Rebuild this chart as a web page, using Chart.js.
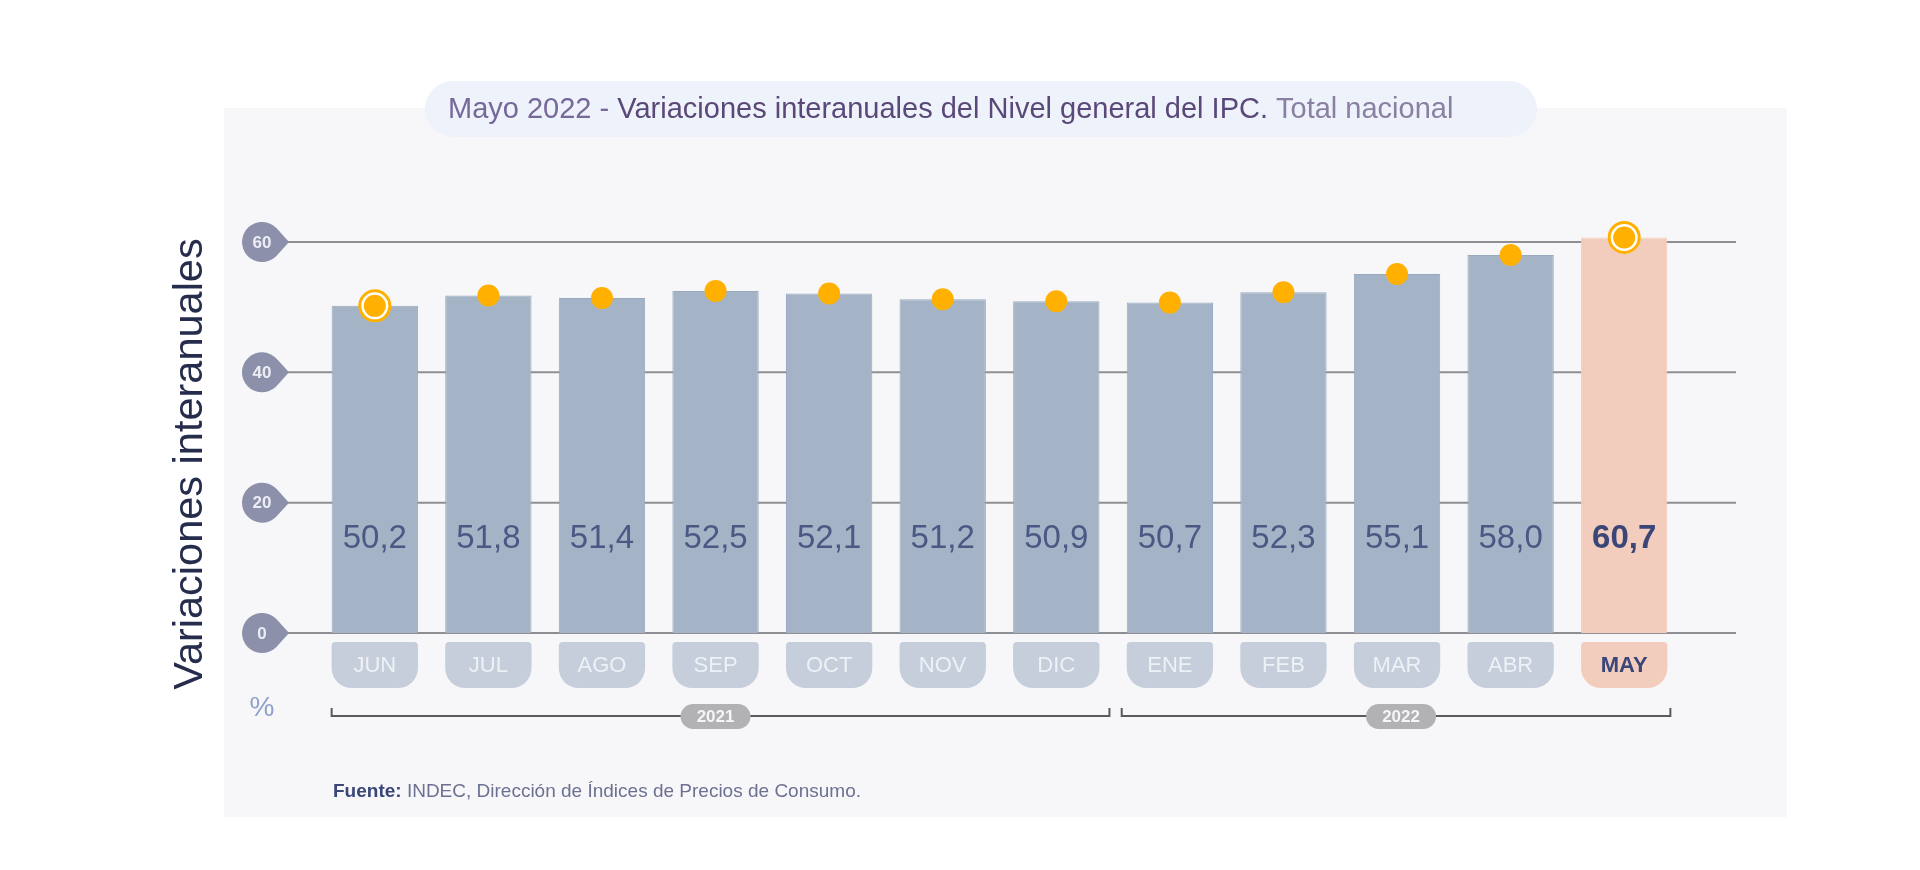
<!DOCTYPE html>
<html>
<head>
<meta charset="utf-8">
<script src="https://cdn.jsdelivr.net/npm/chart.js@4/dist/chart.umd.min.js"></script>
<style>
  html, body { margin: 0; background: #fff; }
  #wrap { width: 1920px; height: 870px; }
</style>
</head>
<body>
<div id="wrap"><canvas id="ipc" width="1920" height="870"></canvas></div>
<script>
// Datos
const months = ["JUN", "JUL", "AGO", "SEP", "OCT", "NOV", "DIC", "ENE", "FEB", "MAR", "ABR", "MAY"];
const values = [50.2, 51.8, 51.4, 52.5, 52.1, 51.2, 50.9, 50.7, 52.3, 55.1, 58.0, 60.7];
const valueLabels = ["50,2", "51,8", "51,4", "52,5", "52,1", "51,2", "50,9", "50,7", "52,3", "55,1", "58,0", "60,7"];
const yTicks = [0, 20, 40, 60];
const years = ["2021", "2022"];
const yearFirst = ["JUN", "ENE"];
const yearLast = ["DIC", "MAY"];
const ringed = ["JUN", "MAY"];
const current = "MAY";

const FONT = "'Liberation Sans', Arial, sans-serif";

// decoracion: panel, titulo, ejes tipo INDEC
const decor = {
  id: "decor",
  beforeDraw(chart) {
    const ctx = chart.ctx;
    ctx.save();
    ctx.fillStyle = "#f7f7f9";
    ctx.fillRect(224, 108, 1563, 709);

    // title pill
    ctx.fillStyle = "#eef2fa";
    ctx.beginPath();
    ctx.roundRect(425, 81, 1112, 56, 28);
    ctx.fill();

    const parts = [
      ["Mayo 2022 - ", "#76689a"],
      ["Variaciones interanuales del Nivel general del IPC.", "#5a4878"],
      [" Total nacional", "#8a80a2"]
    ];
    ctx.font = "29px " + FONT;
    ctx.textBaseline = "middle";
    let x = 448;
    parts.forEach(([t, c]) => {
      ctx.fillStyle = c;
      ctx.fillText(t, x, 110);
      x += ctx.measureText(t).width;
    });
    ctx.restore();
  },
  beforeDatasetsDraw(chart) {
    const ctx = chart.ctx;
    const y = chart.scales.y;
    ctx.save();
    yTicks.forEach(v => {
      const py = y.getPixelForValue(v);
      ctx.strokeStyle = "#8f8f93";
      ctx.lineWidth = 2;
      ctx.beginPath();
      ctx.moveTo(287, py);
      ctx.lineTo(1736, py);
      ctx.stroke();

      // teardrop bubble
      const cx = 262, r = 20;
      ctx.fillStyle = "#8c90ab";
      ctx.beginPath();
      ctx.moveTo(cx + 27, py);
      ctx.arc(cx, py, r, -0.75, 0.75, true);
      ctx.closePath();
      ctx.fill();
      ctx.fillStyle = "#eceef4";
      ctx.font = "bold 17px " + FONT;
      ctx.textAlign = "center";
      ctx.textBaseline = "middle";
      ctx.fillText(String(v), cx, py + 1);
    });
    ctx.restore();
  },
  afterDatasetsDraw(chart) {
    const ctx = chart.ctx;
    const y = chart.scales.y;
    const bars = chart.getDatasetMeta(2).data;
    const zero = y.getPixelForValue(0);
    ctx.save();
    ctx.textAlign = "center";
    ctx.textBaseline = "middle";

    bars.forEach((b, i) => {
      const isCur = months[i] === current;
      const w = b.width;
      // value label
      ctx.fillStyle = isCur ? "#3a4677" : "#4c5884";
      ctx.font = (isCur ? "bold " : "") + "33px " + FONT;
      ctx.fillText(valueLabels[i], b.x, zero - 94);

      // month pill
      ctx.fillStyle = isCur ? "#f2cdbd" : "#c5ceda";
      ctx.beginPath();
      ctx.roundRect(b.x - w / 2, zero + 9, w, 46, [4, 4, 20, 20]);
      ctx.fill();
      ctx.fillStyle = isCur ? "#3a4677" : "#eef1f6";
      ctx.font = (isCur ? "bold " : "") + "22px " + FONT;
      ctx.fillText(months[i], b.x, zero + 33);
    });

    // year brackets
    years.forEach((yr, k) => {
      const a = bars[months.indexOf(yearFirst[k])];
      const z = bars[months.indexOf(yearLast[k])];
      const x0 = a.x - a.width / 2 - (k ? 5 : 0);
      const x1 = z.x + z.width / 2 + (k ? 3 : 10);
      const by = zero + 83;
      ctx.strokeStyle = "#5a5a5e";
      ctx.lineWidth = 2;
      ctx.beginPath();
      ctx.moveTo(x0, by - 8);
      ctx.lineTo(x0, by);
      ctx.lineTo(x1, by);
      ctx.lineTo(x1, by - 8);
      ctx.stroke();
      const mx = (x0 + x1) / 2 + (k ? 5 : -5);
      ctx.fillStyle = "#b2b2b4";
      ctx.beginPath();
      ctx.roundRect(mx - 35, by - 12, 70, 25, 12.5);
      ctx.fill();
      ctx.fillStyle = "#f5f5f7";
      ctx.font = "bold 17px " + FONT;
      ctx.fillText(yr, mx, by + 1);
    });

    // unidad
    ctx.fillStyle = "#8ea2c8";
    ctx.font = "28px " + FONT;
    ctx.fillText("%", 262, 708);

    // titulo eje y
    ctx.save();
    ctx.translate(191, 464);
    ctx.rotate(-Math.PI / 2);
    ctx.fillStyle = "#262c4c";
    ctx.font = "41.5px " + FONT;
    ctx.fillText("Variaciones interanuales", 0, 0);
    ctx.restore();

    // fuente
    ctx.textAlign = "left";
    ctx.textBaseline = "alphabetic";
    ctx.font = "bold 19px " + FONT;
    ctx.fillStyle = "#3a4677";
    ctx.fillText("Fuente:", 333, 797);
    const fw = ctx.measureText("Fuente: ").width;
    ctx.font = "19px " + FONT;
    ctx.fillStyle = "#6c7192";
    ctx.fillText("INDEC, Dirección de Índices de Precios de Consumo.", 333 + fw, 797);
    ctx.restore();
  }
};

const ipcCtx = document.getElementById("ipc").getContext("2d");
new Chart(ipcCtx, {
  data: {
    labels: months,
    datasets: [
      {
        type: "line",
        data: values,
        showLine: false,
        pointRadius: 11,
        pointHoverRadius: 11,
        pointBackgroundColor: "#ffb000",
        pointBorderWidth: 0,
        clip: false,
        order: 0
      },
      {
        type: "line",
        data: values.map((v, i) => (ringed.includes(months[i]) ? v : null)),
        showLine: false,
        pointRadius: 15,
        pointHoverRadius: 15,
        pointBackgroundColor: "#ffffff",
        pointBorderColor: "#ffb000",
        pointBorderWidth: 3,
        clip: false,
        order: 1
      },
      {
        type: "bar",
        data: values,
        backgroundColor: months.map(m => (m === current ? "#f2cdbd" : "#a4b4c6")),
        borderColor: months.map(m => (m === current ? "#f2cdbd" : "#98aabf")),
        borderWidth: 1,
        barPercentage: 0.76,
        categoryPercentage: 1,
        clip: false,
        order: 2
      }
    ]
  },
  options: {
    responsive: false,
    animation: false,
    devicePixelRatio: 1,
    events: [],
    layout: { padding: { left: 318, right: 239, top: 242, bottom: 237 } },
    plugins: { legend: { display: false }, tooltip: { enabled: false } },
    scales: {
      x: { type: "category", display: false, offset: true },
      y: { display: false, min: 0, max: 60 }
    }
  },
  plugins: [decor]
});
</script>
</body>
</html>
